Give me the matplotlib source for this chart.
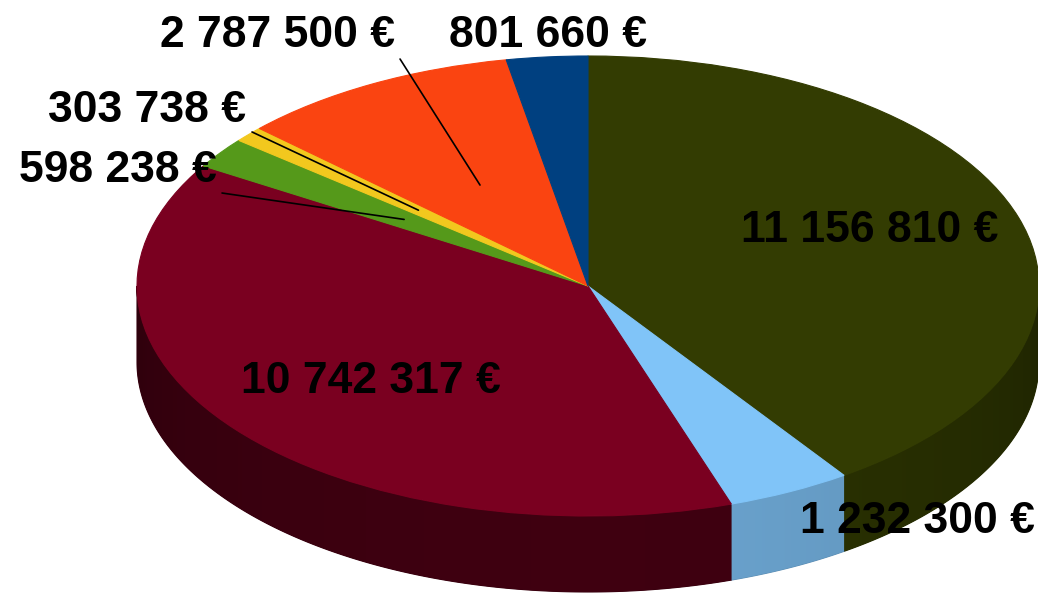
import matplotlib.pyplot as plt
import numpy as np
from matplotlib.colors import to_rgb
from matplotlib.patches import Polygon

# slices, clockwise from 12 o'clock
values = [11156810, 1232300, 10742317, 598238, 303738, 2787500, 801660]
colors = ['#333c02', '#80c4f8', '#7a0020', '#55991a', '#f2c81e', '#fa4411', '#004080']
side_shade = [0.72, 0.72, 0.45, 0.6, 0.6, 0.6, 0.6]

labels = [f"{v:,}".replace(',', ' ') + ' €' for v in values]

# label baselines (axes fraction) and leader line starts
label_pos = [(0.838, 0.5933), (0.8834, 0.1042), (0.3574, 0.3395),
             (0.1137, 0.694), (0.1416, 0.795), (0.2669, 0.921), (0.5279, 0.921)]
leader_start = {3: (0.2139, 0.6756), 4: (0.2428, 0.7782), 5: (0.3854, 0.9008)}

# pixel geometry of the ellipse
CX, CY, RX, RY = 588, 286, 451, 230
W, H = 1038, 595
depth = 76 / RY

fig = plt.figure(figsize=(W / 100, H / 100), dpi=100)
ax = fig.add_axes([0, 0, 1, 1])

wedges, _ = ax.pie(values, colors=colors, startangle=90, counterclock=False,
                   radius=1, center=(0, 0))
for w, c in zip(wedges, colors):
    w.set_edgecolor(c)
    w.set_linewidth(0.8)
    w.set_zorder(3)

# side wall of the front half, shaded left to right
xg = np.linspace(-1, 1, 400)
light = 0.85 + 0.3 * np.sqrt(np.clip(1 - xg ** 2, 0, 1))
for w, c, k in zip(wedges, colors, side_shade):
    base = np.array(to_rgb(c))
    for lo, hi in [(-180, 0), (180, 360)]:
        a1, a2 = max(w.theta1, lo), min(w.theta2, hi)
        if a2 <= a1:
            continue
        t = np.radians(np.linspace(a1, a2, 200))
        top = np.column_stack([np.cos(t), np.sin(t)])
        bot = np.column_stack([np.cos(t[::-1]), np.sin(t[::-1]) - depth])
        verts = np.vstack([top, bot])
        mid = np.clip(base * k, 0, 1)
        ax.add_patch(Polygon(verts, closed=True, facecolor=mid, edgecolor=mid,
                             lw=0.8, zorder=1))
        grad = np.clip(base[None, None, :] * k * light[None, :, None], 0, 1)
        im = ax.imshow(grad, extent=(-1, 1, -1 - depth, 0), aspect='auto',
                       interpolation='bilinear', zorder=2)
        clip = Polygon(verts, closed=True, transform=ax.transData)
        im.set_clip_path(clip)

ax.set_aspect('auto')
ax.set_xlim(-CX / RX, (W - CX) / RX)
ax.set_ylim(-(H - CY) / RY, CY / RY)
ax.axis('off')

for i, (lab, pos) in enumerate(zip(labels, label_pos)):
    ax.text(pos[0], pos[1], lab, transform=ax.transAxes, ha='center', va='baseline',
            fontsize=32, fontweight='bold', family='Liberation Sans', color='black',
            zorder=6)
    if i in leader_start:
        w = wedges[i]
        mid = np.radians((w.theta1 + w.theta2) / 2)
        ax.annotate('', xy=(0.5 * np.cos(mid), 0.5 * np.sin(mid)), xycoords='data',
                    xytext=leader_start[i], textcoords='axes fraction',
                    arrowprops=dict(arrowstyle='-', lw=1.2, color='black',
                                    shrinkA=0, shrinkB=0), zorder=5)

fig.savefig('out.png', dpi=100)
